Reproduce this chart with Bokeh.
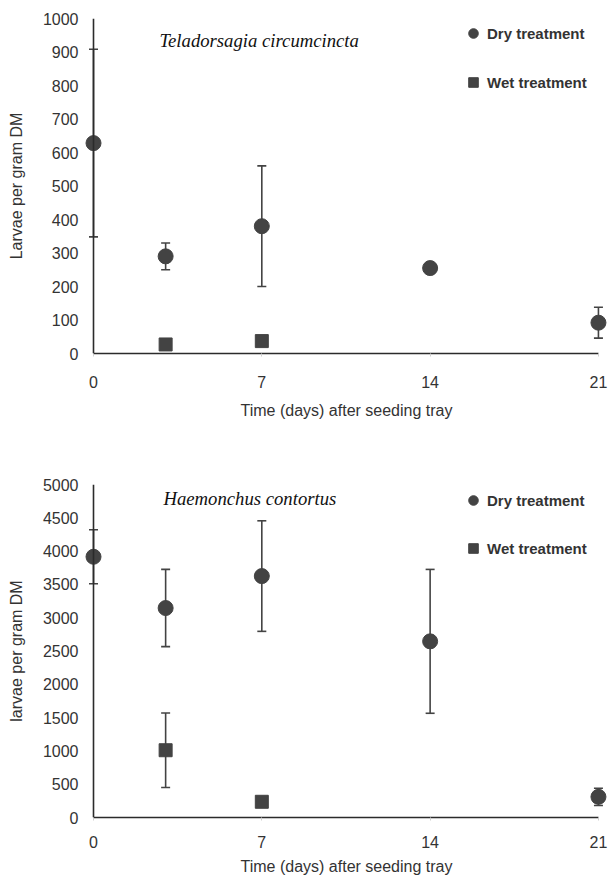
from bokeh.plotting import figure
from bokeh.models import (ColumnDataSource, Whisker, TeeHead, Label, Legend, LegendItem,
                          Range1d, FixedTicker, Span)
from bokeh.layouts import column
from bokeh.embed import file_html
from bokeh.resources import INLINE

# ---------------- data ----------------
x_ticks = [0, 7, 14, 21]

# Teladorsagia circumcincta
tc_dry_days = [0, 3, 7, 14, 21]
tc_dry_mean = [628, 290, 380, 255, 92]
tc_dry_err = [280, 40, 180, 0, 46]
tc_wet_days = [3, 7]
tc_wet_mean = [27, 37]
tc_wet_err = [0, 0]
tc_y_ticks = [0, 100, 200, 300, 400, 500, 600, 700, 800, 900, 1000]

# Haemonchus contortus
hc_dry_days = [0, 3, 7, 14, 21]
hc_dry_mean = [3915, 3145, 3625, 2645, 310]
hc_dry_err = [405, 580, 830, 1080, 130]
hc_wet_days = [3, 7]
hc_wet_mean = [1010, 236]
hc_wet_err = [560, 0]
hc_y_ticks = [0, 500, 1000, 1500, 2000, 2500, 3000, 3500, 4000, 4500, 5000]

DARK = "#434343"
TXT = "#333333"
AXIS = "#2b2b2b"


def make_panel(title, ylabel, dry_days, dry_mean, dry_err, wet_days, wet_mean, wet_err,
               y_ticks, ymax, title_xy, height, b_top, b_bottom, legend_loc,
               tick_standoff, label_standoff, legend_spacing):
    p = figure(width=609, height=height, output_backend="svg", toolbar_location=None,
               x_range=Range1d(-0.416, 21.46), y_range=Range1d(0, ymax),
               min_border_left=83, min_border_right=0, min_border_top=b_top,
               min_border_bottom=b_bottom)
    p.outline_line_color = None
    p.grid.visible = False
    p.background_fill_color = "white"

    # vertical axis line drawn at day 0
    p.add_layout(Span(location=0, dimension="height", line_color=AXIS, line_width=1.6))

    dry_src = ColumnDataSource(dict(
        x=dry_days, y=dry_mean,
        lo=[m - e for m, e in zip(dry_mean, dry_err)],
        hi=[m + e for m, e in zip(dry_mean, dry_err)]))
    wet_src = ColumnDataSource(dict(
        x=wet_days, y=wet_mean,
        lo=[m - e for m, e in zip(wet_mean, wet_err)],
        hi=[m + e for m, e in zip(wet_mean, wet_err)]))

    for src in (dry_src, wet_src):
        w = Whisker(base="x", upper="hi", lower="lo", source=src, dimension="height",
                    line_color=DARK, line_width=1.6,
                    upper_head=TeeHead(size=9, line_color=DARK, line_width=1.6),
                    lower_head=TeeHead(size=9, line_color=DARK, line_width=1.6))
        p.add_layout(w)

    r_dry = p.scatter("x", "y", source=dry_src, marker="circle", size=15,
                      fill_color=DARK, line_color=DARK)
    r_wet = p.scatter("x", "y", source=wet_src, marker="square", size=13,
                      fill_color=DARK, line_color=DARK)

    legend = Legend(items=[LegendItem(label="Dry treatment", renderers=[r_dry]),
                           LegendItem(label="Wet treatment", renderers=[r_wet])],
                    location=legend_loc, orientation="vertical",
                    glyph_width=24, glyph_height=24, label_standoff=2,
                    spacing=legend_spacing, padding=0, margin=0,
                    border_line_color=None, background_fill_alpha=0,
                    label_text_font="Liberation Sans", label_text_font_style="bold",
                    label_text_font_size="15px", label_text_color=TXT)
    p.add_layout(legend)

    p.add_layout(Label(x=title_xy[0], y=title_xy[1], text=title,
                       text_font="Liberation Serif", text_font_style="italic",
                       text_font_size="18.7px", text_color="#111111",
                       text_baseline="middle", text_align="left"))

    for ax in (p.xaxis[0], p.yaxis[0]):
        ax.axis_line_color = AXIS
        ax.axis_line_width = 1.6
        ax.major_tick_line_color = "#d0d0d0"
        ax.major_tick_in = 0
        ax.major_tick_out = 3
        ax.minor_tick_line_color = None
        ax.major_label_text_font = "Liberation Sans"
        ax.major_label_text_font_size = "16px"
        ax.major_label_text_color = TXT
        ax.axis_label_text_font = "Liberation Sans"
        ax.axis_label_text_font_size = "16px"
        ax.axis_label_text_font_style = "normal"
        ax.axis_label_text_color = TXT

    p.xaxis.ticker = FixedTicker(ticks=x_ticks)
    p.xaxis.bounds = (0, 21)
    p.xaxis.major_label_standoff = tick_standoff
    p.xaxis.axis_label = "Time (days) after seeding tray"
    p.xaxis.axis_label_standoff = label_standoff

    p.yaxis.ticker = FixedTicker(ticks=y_ticks)
    p.yaxis.axis_line_color = None
    p.yaxis.major_tick_line_color = None
    p.yaxis.major_tick_out = 0
    p.yaxis.major_label_standoff = 5
    p.yaxis.axis_label = ylabel
    p.yaxis.axis_label_standoff = 15
    return p


p1 = make_panel("Teladorsagia circumcincta", "Larvae per gram DM",
                tc_dry_days, tc_dry_mean, tc_dry_err, tc_wet_days, tc_wet_mean, tc_wet_err,
                tc_y_ticks, 1000, (2.74, 934), 436, 18, 83, (378, 259), 19, 11, 25)
p2 = make_panel("Haemonchus contortus", "larvae per gram DM",
                hc_dry_days, hc_dry_mean, hc_dry_err, hc_wet_days, hc_wet_mean, hc_wet_err,
                hc_y_ticks, 5000, (2.91, 4790), 443, 48, 62, (378, 257), 15, 7, 24)

layout = column(p1, p2, spacing=0)
open("out.html", "w").write(file_html(layout, INLINE))
